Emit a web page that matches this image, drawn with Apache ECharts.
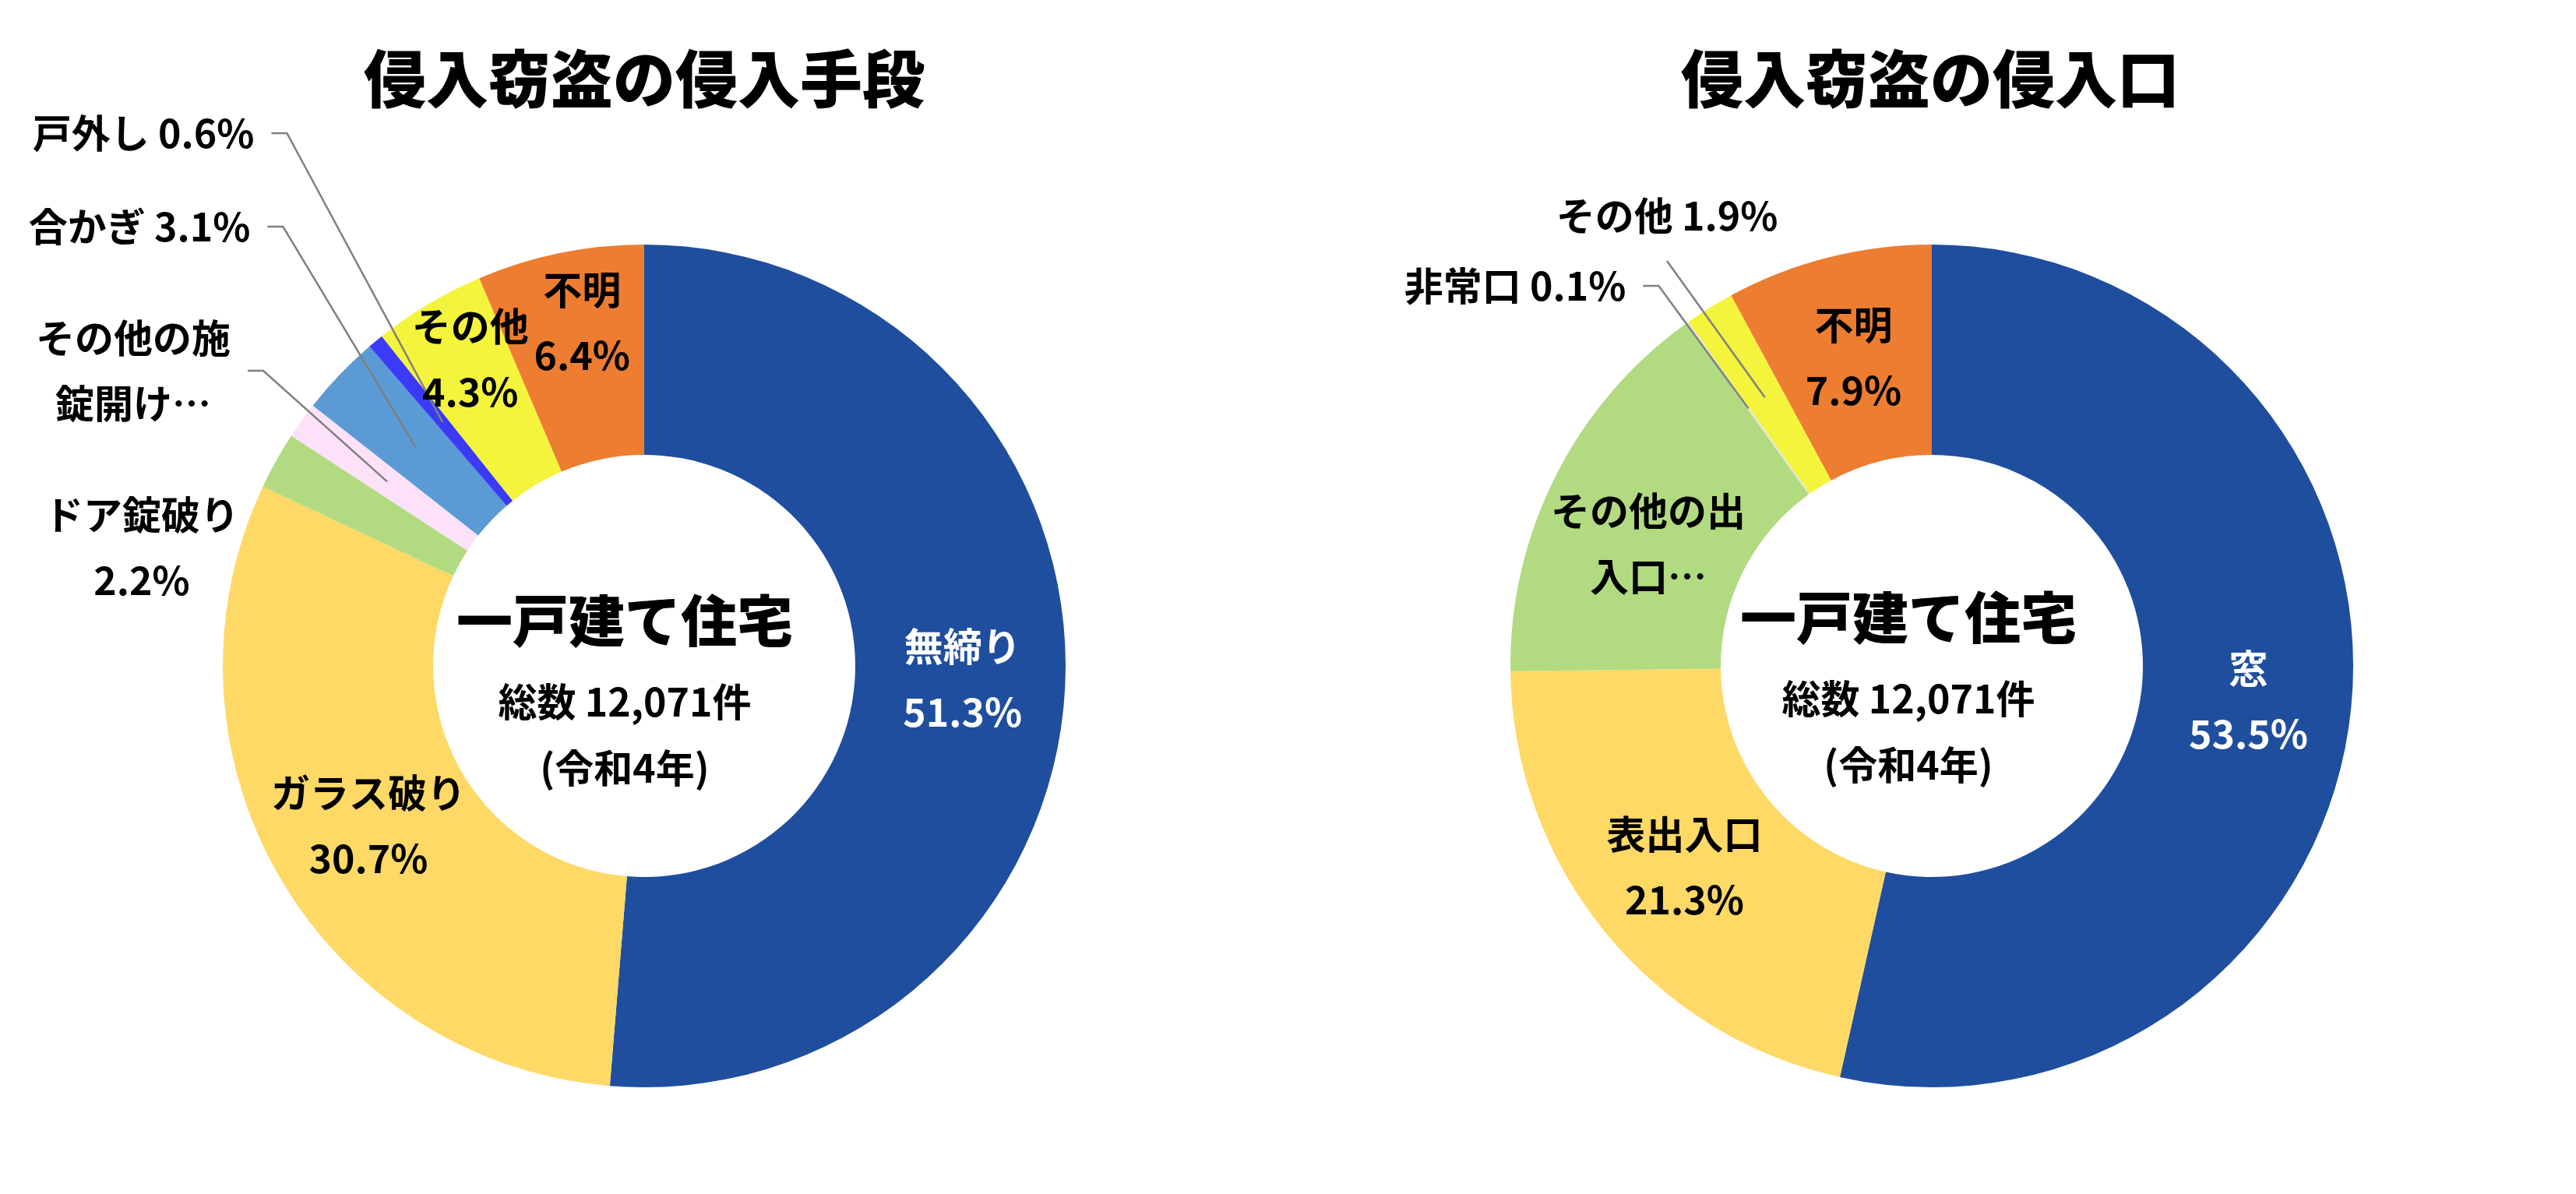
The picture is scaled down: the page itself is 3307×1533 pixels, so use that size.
<!DOCTYPE html>
<html>
<head>
<meta charset="utf-8">
<title>侵入窃盗の侵入手段・侵入口</title>
<script src="https://cdn.jsdelivr.net/npm/echarts@6/dist/echarts.min.js"></script>
<style>
    html, body { margin: 0; padding: 0; background: #fff; }
    #chart { width: 3307px; height: 1533px; }
</style>
</head>
<body>
<div id="chart"></div>
<script>
// 侵入手段（一戸建て住宅）
var methodNames = ['無締り', 'ガラス破り', 'ドア錠破り', 'その他の施錠開け用具', '合かぎ', '戸外し', 'その他', '不明'];
var methodValues = [51.3, 30.7, 2.2, 1.4, 3.1, 0.6, 4.3, 6.4];
var methodColors = ['#1F4E9E', '#FFD966', '#B2DA80', '#FCE1F8', '#5B9BD5', '#3B3BF7', '#F4F43C', '#ED7D31'];

// 侵入口（一戸建て住宅）
var entryNames = ['窓', '表出入口', 'その他の出入口', '非常口', 'その他', '不明'];
var entryValues = [53.5, 21.3, 15.3, 0.1, 1.9, 7.9];
var entryColors = ['#1F4E9E', '#FFD966', '#B2DA80', '#E4E4E4', '#F4F43C', '#ED7D31'];

var chartTitles = ['侵入窃盗の侵入手段', '侵入窃盗の侵入口'];
var centerLines = ['一戸建て住宅', '総数 12,071件', '(令和4年)'];

var FONT = '"Noto Sans CJK JP", "Noto Sans", sans-serif';
var R0 = 271, R1 = 541;
var pies = [
    {cx: 827, cy: 855},
    {cx: 2480, cy: 855}
];

// ラベルの置き方（Excel の配置に合わせる）
var methodPlace = {
    '無締り': {color: '#fff'},
    'ガラス破り': {},
    'ドア錠破り': {pos: [182, 703]},
    'その他の施錠開け用具': {pos: [171, 476], text: 'その他の施\n錠開け…', line: 'right'},
    '合かぎ': {pos: [179, 291], oneLine: true, line: 'right'},
    '戸外し': {pos: [184, 171], oneLine: true, line: 'right'},
    'その他': {shift: [-14, -43]},
    '不明': {shift: [2, -40]}
};
var entryPlace = {
    '窓': {color: '#fff'},
    '表出入口': {},
    'その他の出入口': {text: 'その他の出\n入口…', shift: [1, 28]},
    '非常口': {pos: [1945, 367], oneLine: true, line: 'right'},
    'その他': {pos: [2140, 277], oneLine: true, line: 'below'},
    '不明': {}
};

function midAngle(values, idx) {
    var total = 0, before = 0;
    for (var i = 0; i < values.length; i++) {
        total += values[i];
        if (i < idx) before += values[i];
    }
    return (before + values[idx] / 2) / total * Math.PI * 2;
}

function makeFormatter(place) {
    return function (params) {
        var p = place[params.name] || {};
        if (p.text) return p.text;
        var pct = params.value.toFixed(1) + '%';
        return p.oneLine ? params.name + ' ' + pct : params.name + '\n' + pct;
    };
}

function makeLayout(names, values, place, pie) {
    return function (params) {
        var p = place[names[params.dataIndex]] || {};
        if (p.shift) return {dx: p.shift[0], dy: p.shift[1]};
        if (!p.pos) return {};
        var w = params.labelRect.width, h = params.labelRect.height;
        var out = {x: p.pos[0], y: p.pos[1], align: 'center', verticalAlign: 'middle'};
        if (p.line) {
            // 線の先はスライスの中ほど
            var a = midAngle(values, params.dataIndex);
            var rm = (R0 + R1) / 2;
            var p0 = [pie.cx + rm * Math.sin(a), pie.cy - rm * Math.cos(a)];
            var p1, p2;
            if (p.line === 'right') {
                var xr = p.pos[0] + w / 2;
                p2 = [xr + 22, p.pos[1]];
                p1 = [xr + 42, p.pos[1]];
            } else {
                p2 = [p.pos[0], p.pos[1] + h / 2 + 16];
                p1 = p2.slice();
            }
            out.labelLinePoints = [p0, p1, p2];
        }
        return out;
    };
}

// ドーナツ本体
function ringSeries(names, values, colors, pie) {
    return {
        type: 'pie',
        z: 2,
        center: [pie.cx, pie.cy],
        radius: [R0, R1],
        startAngle: 90,
        clockwise: true,
        silent: true,
        label: {show: false},
        labelLine: {show: false},
        data: names.map(function (n, i) {
            return {name: n, value: values[i], itemStyle: {color: colors[i]}};
        })
    };
}

// 同じ形の透明な輪にラベルと引き出し線を載せる（線を扇形の上に描くため）
function labelSeries(names, values, place, pie) {
    return {
        type: 'pie',
        z: 3,
        center: [pie.cx, pie.cy],
        radius: [R0, R1],
        startAngle: 90,
        clockwise: true,
        avoidLabelOverlap: false,
        silent: true,
        itemStyle: {color: 'rgba(0,0,0,0)'},
        label: {
            fontFamily: FONT,
            fontSize: 50,
            fontWeight: 'bold',
            lineHeight: 84,
            align: 'center',
            formatter: makeFormatter(place)
        },
        labelLine: {
            lineStyle: {color: '#808080', width: 2.5}
        },
        labelLayout: makeLayout(names, values, place, pie),
        data: names.map(function (n, i) {
            var p = place[n] || {};
            return {
                name: n,
                value: values[i],
                label: {position: p.pos ? 'outside' : 'inside', color: p.color || '#000'},
                labelLine: {show: !!p.line}
            };
        })
    };
}

function centerText(x, y, text, size, weight) {
    return {
        type: 'text',
        x: x,
        y: y,
        silent: true,
        style: {
            text: text,
            font: (weight || 'bold') + ' ' + size + 'px ' + FONT,
            fill: '#000',
            align: 'center',
            verticalAlign: 'middle',
            textAlign: 'center',
            textVerticalAlign: 'middle'
        }
    };
}

var chart = echarts.init(document.getElementById('chart'));
var option = {
    backgroundColor: '#fff',
    animation: false,
    textStyle: {fontFamily: FONT},
    graphic: [
        centerText(827, 101, chartTitles[0], 80, 900),
        centerText(2478, 101, chartTitles[1], 80, 900),
        centerText(802, 797, centerLines[0], 72, 900),
        centerText(802, 901, centerLines[1], 50),
        centerText(802, 986, centerLines[2], 50),
        centerText(2450, 793, centerLines[0], 72, 900),
        centerText(2450, 897, centerLines[1], 50),
        centerText(2450, 982, centerLines[2], 50)
    ],
    series: [
        ringSeries(methodNames, methodValues, methodColors, pies[0]),
        ringSeries(entryNames, entryValues, entryColors, pies[1]),
        labelSeries(methodNames, methodValues, methodPlace, pies[0]),
        labelSeries(entryNames, entryValues, entryPlace, pies[1])
    ]
};
chart.setOption(option);
</script>
</body>
</html>
